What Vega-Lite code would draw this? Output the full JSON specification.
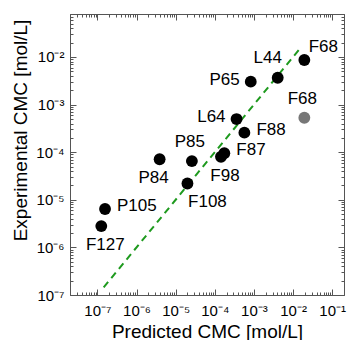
{
  "$schema": "https://vega.github.io/schema/vega-lite/v6.json",
  "width": 274,
  "height": 281,
  "autosize": "none",
  "padding": {"left": 70, "top": 14, "right": 5, "bottom": 45},
  "background": "white",
  "config": {
    "view": {"stroke": "#555", "strokeWidth": 1},
    "axis": {
      "domain": false, "grid": false, "ticks": true,
      "labelFont": "Liberation Sans", "titleFont": "Liberation Sans",
      "labelColor": "#000", "titleColor": "#000", "titleFontWeight": "normal",
      "tickColor": "#555", "tickWidth": 1, "labelFontSize": 15, "titleFontSize": 19,
      "labelOverlap": false, "labelFlush": false
    },
    "text": {"font": "Liberation Sans", "fontSize": 17, "color": "#000", "baseline": "middle"}
  },
  "datasets": {
    "pts": [
      {"name": "F68", "pred": 0.0194, "exp": 0.00865, "type": "filled"},
      {"name": "L44", "pred": 0.00405, "exp": 0.00367, "type": "filled"},
      {"name": "P65", "pred": 0.00083, "exp": 0.00303, "type": "filled"},
      {"name": "F68", "pred": 0.0194, "exp": 0.00053, "type": "hatched"},
      {"name": "L64", "pred": 0.00036, "exp": 0.000497, "type": "filled"},
      {"name": "F88", "pred": 0.00057, "exp": 0.000257, "type": "filled"},
      {"name": "F87", "pred": 0.000175, "exp": 0.000095, "type": "filled"},
      {"name": "F98", "pred": 0.000144, "exp": 0.00008, "type": "filled"},
      {"name": "P85", "pred": 0.000026, "exp": 0.000065, "type": "filled"},
      {"name": "P84", "pred": 0.0000039, "exp": 0.000071, "type": "filled"},
      {"name": "F108", "pred": 0.00002, "exp": 0.000022, "type": "filled"},
      {"name": "P105", "pred": 1.57e-7, "exp": 0.0000064, "type": "filled"},
      {"name": "F127", "pred": 1.26e-7, "exp": 0.0000028, "type": "filled"}
    ],
    "diag": [
      {"pred": 1.45e-7, "exp": 1.45e-7},
      {"pred": 0.0165, "exp": 0.0165}
    ]
  },
  "resolve": {"axis": {"x": "independent", "y": "independent"}},
  "layer": [
    {
      "data": {"name": "diag"},
      "mark": {"type": "line", "color": "#1e9a1e", "strokeWidth": 2, "strokeDash": [7, 5]},
      "encoding": {
        "x": {"field": "pred", "type": "quantitative",
          "scale": {"type": "log", "domain": [2e-8, 0.2], "nice": false},
          "axis": {"orient": "top", "labels": false, "title": null,
            "values": [1e-7,1e-6,1e-5,1e-4,1e-3,1e-2,1e-1], "tickSize": -6}},
        "y": {"field": "exp", "type": "quantitative",
          "scale": {"type": "log", "domain": [1e-7, 0.08], "nice": false},
          "axis": {"orient": "right", "labels": false, "title": null,
            "values": [1e-7,1e-6,1e-5,1e-4,1e-3,1e-2], "tickSize": -6}}
      }
    },
    {
      "data": {"name": "pts"},
      "mark": {"type": "circle", "size": 140, "opacity": 1},
      "encoding": {
        "x": {"field": "pred", "type": "quantitative",
          "scale": {"type": "log", "domain": [2e-8, 0.2], "nice": false},
          "axis": {"orient": "bottom", "title": "Predicted CMC [mol/L]",
            "values": [1e-7,1e-6,1e-5,1e-4,1e-3,1e-2,1e-1],
            "labelExpr": "'10' + ['⁻⁸','⁻⁷','⁻⁶','⁻⁵','⁻⁴','⁻³','⁻²','⁻¹','⁰'][round(log(datum.value)/LN10)+8]",
            "labelPadding": 14, "titleY": 42, "titleBaseline": "alphabetic",
            "tickSize": -6}},
        "y": {"field": "exp", "type": "quantitative",
          "scale": {"type": "log", "domain": [1e-7, 0.08], "nice": false},
          "axis": {"orient": "left", "title": "Experimental CMC [mol/L]",
            "values": [1e-7,1e-6,1e-5,1e-4,1e-3,1e-2],
            "labelExpr": "'10' + ['⁻⁸','⁻⁷','⁻⁶','⁻⁵','⁻⁴','⁻³','⁻²','⁻¹','⁰'][round(log(datum.value)/LN10)+8]",
            "labelPadding": 12, "titleX": -50, "titleY": 116, "titleBaseline": "middle",
            "tickSize": -6}},
        "color": {"field": "type", "type": "nominal", "legend": null,
          "scale": {"domain": ["filled", "hatched"], "range": ["#000000", "#777777"]}}
      }
    },
    {
      "data": {"name": "pts"},
      "transform": [{"filter": {"field": "name", "oneOf": ["F88", "F87", "P105"]}}],
      "mark": {"type": "text", "align": "left", "dx": 12, "dy": -3},
      "encoding": {
        "x": {"field": "pred", "type": "quantitative",
          "axis": {"orient": "bottom", "labels": false, "title": null, "tickSize": -3,
            "values": [2e-8,3e-8,4e-8,5e-8,6e-8,7e-8,8e-8,9e-8,2e-7,3e-7,4e-7,5e-7,6e-7,7e-7,8e-7,9e-7,2e-6,3e-6,4e-6,5e-6,6e-6,7e-6,8e-6,9e-6,2e-5,3e-5,4e-5,5e-5,6e-5,7e-5,8e-5,9e-5,2e-4,3e-4,4e-4,5e-4,6e-4,7e-4,8e-4,9e-4,2e-3,3e-3,4e-3,5e-3,6e-3,7e-3,8e-3,9e-3,2e-2,3e-2,4e-2,5e-2,6e-2,7e-2,8e-2,9e-2,2e-1]}},
        "y": {"field": "exp", "type": "quantitative",
          "axis": {"orient": "left", "labels": false, "title": null, "tickSize": -3,
            "values": [2e-7,3e-7,4e-7,5e-7,6e-7,7e-7,8e-7,9e-7,2e-6,3e-6,4e-6,5e-6,6e-6,7e-6,8e-6,9e-6,2e-5,3e-5,4e-5,5e-5,6e-5,7e-5,8e-5,9e-5,2e-4,3e-4,4e-4,5e-4,6e-4,7e-4,8e-4,9e-4,2e-3,3e-3,4e-3,5e-3,6e-3,7e-3,8e-3,9e-3,2e-2,3e-2,4e-2,5e-2,6e-2,7e-2,8e-2]}},
        "text": {"field": "name"}}
    },
    {
      "data": {"name": "pts"},
      "transform": [{"filter": {"field": "name", "oneOf": ["P65", "L64"]}}],
      "mark": {"type": "text", "align": "right", "dx": -11, "dy": -2},
      "encoding": {
        "x": {"field": "pred", "type": "quantitative",
          "axis": {"orient": "top", "labels": false, "title": null, "tickSize": -3,
            "values": [2e-8,3e-8,4e-8,5e-8,6e-8,7e-8,8e-8,9e-8,2e-7,3e-7,4e-7,5e-7,6e-7,7e-7,8e-7,9e-7,2e-6,3e-6,4e-6,5e-6,6e-6,7e-6,8e-6,9e-6,2e-5,3e-5,4e-5,5e-5,6e-5,7e-5,8e-5,9e-5,2e-4,3e-4,4e-4,5e-4,6e-4,7e-4,8e-4,9e-4,2e-3,3e-3,4e-3,5e-3,6e-3,7e-3,8e-3,9e-3,2e-2,3e-2,4e-2,5e-2,6e-2,7e-2,8e-2,9e-2,2e-1]}},
        "y": {"field": "exp", "type": "quantitative",
          "axis": {"orient": "right", "labels": false, "title": null, "tickSize": -3,
            "values": [2e-7,3e-7,4e-7,5e-7,6e-7,7e-7,8e-7,9e-7,2e-6,3e-6,4e-6,5e-6,6e-6,7e-6,8e-6,9e-6,2e-5,3e-5,4e-5,5e-5,6e-5,7e-5,8e-5,9e-5,2e-4,3e-4,4e-4,5e-4,6e-4,7e-4,8e-4,9e-4,2e-3,3e-3,4e-3,5e-3,6e-3,7e-3,8e-3,9e-3,2e-2,3e-2,4e-2,5e-2,6e-2,7e-2,8e-2]}},
        "text": {"field": "name"}}
    },
    {
      "data": {"name": "pts"},
      "transform": [{"filter": "datum.name == 'P85' || datum.type == 'hatched'"}],
      "mark": {"type": "text", "align": "center", "dx": -2, "dy": -19},
      "encoding": {"x": {"field": "pred", "type": "quantitative", "axis": null}, "y": {"field": "exp", "type": "quantitative", "axis": null}, "text": {"field": "name"}}
    },
    {
      "data": {"name": "pts"},
      "transform": [{"filter": "datum.name == 'L44'"}],
      "mark": {"type": "text", "align": "center", "dx": -10, "dy": -20},
      "encoding": {"x": {"field": "pred", "type": "quantitative", "axis": null}, "y": {"field": "exp", "type": "quantitative", "axis": null}, "text": {"field": "name"}}
    },
    {
      "data": {"name": "pts"},
      "transform": [{"filter": "datum.name == 'F68' && datum.type == 'filled'"}],
      "mark": {"type": "text", "align": "center", "dx": 19, "dy": -13},
      "encoding": {"x": {"field": "pred", "type": "quantitative", "axis": null}, "y": {"field": "exp", "type": "quantitative", "axis": null}, "text": {"field": "name"}}
    },
    {
      "data": {"name": "pts"},
      "transform": [{"filter": {"field": "name", "oneOf": ["F98", "F127"]}}],
      "mark": {"type": "text", "align": "center", "dx": 4, "dy": 19},
      "encoding": {"x": {"field": "pred", "type": "quantitative", "axis": null}, "y": {"field": "exp", "type": "quantitative", "axis": null}, "text": {"field": "name"}}
    },
    {
      "data": {"name": "pts"},
      "transform": [{"filter": "datum.name == 'P84'"}],
      "mark": {"type": "text", "align": "center", "dx": -6, "dy": 19},
      "encoding": {"x": {"field": "pred", "type": "quantitative", "axis": null}, "y": {"field": "exp", "type": "quantitative", "axis": null}, "text": {"field": "name"}}
    },
    {
      "data": {"name": "pts"},
      "transform": [{"filter": "datum.name == 'F108'"}],
      "mark": {"type": "text", "align": "center", "dx": 20, "dy": 19},
      "encoding": {"x": {"field": "pred", "type": "quantitative", "axis": null}, "y": {"field": "exp", "type": "quantitative", "axis": null}, "text": {"field": "name"}}
    }
  ]
}
